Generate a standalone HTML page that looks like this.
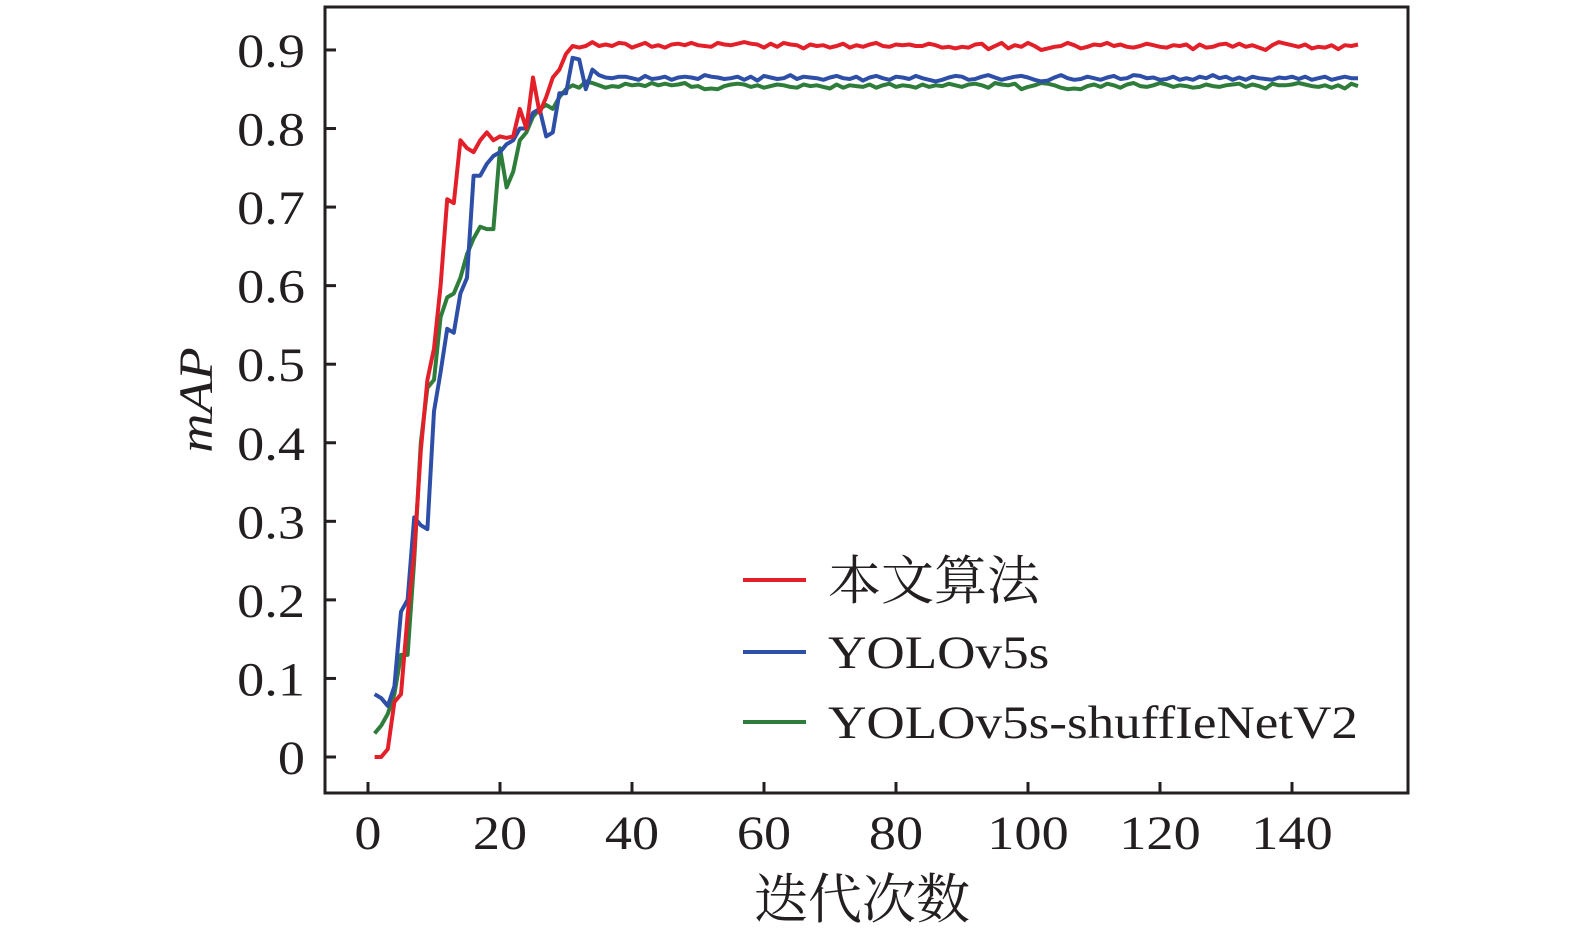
<!DOCTYPE html>
<html><head><meta charset="utf-8"><style>
body{margin:0;background:#fff;}
svg{display:block;}
text{font-family:"Liberation Serif","Noto Serif CJK SC",serif;fill:#231f20;}
</style></head><body>
<svg id="chart" width="1575" height="935">
<rect x="325" y="7" width="1083" height="786" fill="none" stroke="#231f20" stroke-width="3"/>
<g id="ticks"></g>
<g id="series"></g>
<text class="wide" x="212" y="400" font-size="48" font-style="italic" text-anchor="middle" transform="rotate(-90 212 400)">mAP</text>
<text x="862" y="918" font-size="54" text-anchor="middle">迭代次数</text>
<g>
<line x1="743" y1="580" x2="806" y2="580" stroke="#e3202a" stroke-width="4"/>
<text x="828" y="599" font-size="53">本文算法</text>
<line x1="743" y1="652" x2="806" y2="652" stroke="#2e4fa8" stroke-width="4"/>
<text class="wide" x="828" y="668" font-size="47">YOLOv5s</text>
<line x1="743" y1="722" x2="806" y2="722" stroke="#2e7d3a" stroke-width="4"/>
<text class="wide" x="828" y="738" font-size="47">YOLOv5s-shuffIeNetV2</text>
</g>
</svg>
<script>
const xTicks=[0,20,40,60,80,100,120,140];
const yTicks=[0,0.1,0.2,0.3,0.4,0.5,0.6,0.7,0.8,0.9];
const yTickLabels=["0","0.1","0.2","0.3","0.4","0.5","0.6","0.7","0.8","0.9"];
const oursEarly=[0,0,0.01,0.07,0.08,0.18,0.26,0.39,0.48,0.52,0.6,0.71,0.705,0.785,0.775,0.77,0.785,0.795,0.785,0.79,0.788,0.79,0.825,0.8,0.865,0.82,0.84,0.865,0.875,0.895,0.905,0.903,0.905,0.91,0.905];
const oursLate=[0.907,0.905,0.909,0.908,0.903,0.906,0.909,0.904,0.906,0.903,0.907,0.908,0.906,0.909,0.906,0.905,0.904,0.909,0.907,0.906,0.908,0.91,0.908,0.907,0.903,0.908,0.904,0.909,0.907,0.906,0.902,0.907,0.905,0.906,0.903,0.905,0.908,0.903,0.906,0.904,0.907,0.909,0.905,0.904,0.907,0.906,0.907,0.905,0.905,0.908,0.906,0.903,0.904,0.902,0.904,0.903,0.907,0.908,0.901,0.905,0.909,0.902,0.906,0.904,0.909,0.905,0.9,0.902,0.904,0.905,0.909,0.906,0.902,0.904,0.907,0.906,0.909,0.905,0.907,0.904,0.903,0.905,0.908,0.906,0.904,0.903,0.906,0.905,0.907,0.901,0.907,0.903,0.904,0.907,0.908,0.904,0.908,0.904,0.906,0.903,0.9,0.906,0.91,0.908,0.906,0.904,0.907,0.902,0.904,0.903,0.906,0.901,0.906,0.905,0.907];
const yoloEarly=[0.08,0.075,0.065,0.09,0.185,0.2,0.305,0.295,0.29,0.44,0.49,0.545,0.54,0.59,0.61,0.74,0.74,0.755,0.765,0.77,0.78,0.785,0.8,0.8,0.82,0.825,0.79,0.795,0.845,0.845,0.89,0.888,0.85,0.875,0.868];
const yoloLate=[0.865,0.864,0.866,0.866,0.864,0.862,0.867,0.863,0.864,0.866,0.862,0.865,0.866,0.865,0.863,0.868,0.866,0.865,0.863,0.864,0.866,0.862,0.866,0.861,0.867,0.865,0.863,0.864,0.868,0.863,0.866,0.865,0.864,0.862,0.865,0.867,0.864,0.863,0.866,0.861,0.865,0.867,0.864,0.862,0.866,0.865,0.863,0.867,0.864,0.862,0.86,0.862,0.865,0.867,0.866,0.862,0.863,0.866,0.868,0.865,0.862,0.864,0.866,0.867,0.865,0.862,0.86,0.861,0.865,0.868,0.864,0.862,0.863,0.866,0.864,0.862,0.865,0.867,0.863,0.864,0.868,0.867,0.864,0.865,0.862,0.863,0.866,0.862,0.864,0.862,0.866,0.864,0.868,0.864,0.866,0.862,0.865,0.862,0.866,0.864,0.863,0.862,0.865,0.864,0.866,0.863,0.866,0.862,0.864,0.866,0.862,0.864,0.866,0.864,0.864];
const shuffleEarly=[0.03,0.04,0.055,0.08,0.13,0.13,0.25,0.4,0.47,0.48,0.56,0.585,0.59,0.61,0.64,0.66,0.675,0.672,0.672,0.775,0.725,0.745,0.785,0.795,0.815,0.825,0.83,0.825,0.84,0.85,0.855,0.852,0.86,0.858,0.855];
const shuffleLate=[0.852,0.854,0.853,0.857,0.855,0.856,0.854,0.858,0.855,0.857,0.855,0.856,0.858,0.853,0.854,0.85,0.851,0.85,0.854,0.856,0.857,0.856,0.853,0.855,0.852,0.854,0.856,0.855,0.853,0.852,0.856,0.854,0.855,0.853,0.851,0.856,0.852,0.855,0.854,0.853,0.856,0.852,0.855,0.857,0.853,0.855,0.854,0.852,0.856,0.853,0.855,0.854,0.857,0.855,0.853,0.856,0.857,0.855,0.852,0.858,0.856,0.855,0.857,0.85,0.853,0.855,0.858,0.857,0.855,0.852,0.85,0.851,0.85,0.854,0.856,0.853,0.857,0.855,0.852,0.856,0.858,0.854,0.853,0.855,0.858,0.856,0.853,0.855,0.854,0.852,0.853,0.856,0.854,0.853,0.855,0.856,0.857,0.853,0.856,0.854,0.851,0.857,0.855,0.855,0.856,0.858,0.856,0.854,0.853,0.855,0.852,0.855,0.851,0.857,0.854];
const NS="http://www.w3.org/2000/svg";
function xs(v){return 368+v*6.6;}
function ys(v){return 757-v*785.6;}
const tg=document.getElementById('ticks');
xTicks.forEach(t=>{
  const l=document.createElementNS(NS,'line');
  l.setAttribute('x1',xs(t));l.setAttribute('x2',xs(t));l.setAttribute('y1',793);l.setAttribute('y2',782);
  l.setAttribute('stroke','#231f20');l.setAttribute('stroke-width','3');
  
  
  tg.appendChild(l);
  const tx=document.createElementNS(NS,'text');
  tx.setAttribute('x',xs(t));tx.setAttribute('y',849);tx.setAttribute('font-size','48');tx.setAttribute('text-anchor','middle');
  tx.setAttribute('class','wide');
  tx.textContent=t;
  
  
  tg.appendChild(tx);
});
yTicks.forEach((t,i)=>{
  const l=document.createElementNS(NS,'line');
  l.setAttribute('x1',325);l.setAttribute('x2',336);l.setAttribute('y1',ys(t));l.setAttribute('y2',ys(t));
  l.setAttribute('stroke','#231f20');l.setAttribute('stroke-width','3');
  
  
  tg.appendChild(l);
  const tx=document.createElementNS(NS,'text');
  tx.setAttribute('x',305);tx.setAttribute('y',ys(t)+17);tx.setAttribute('font-size','48');tx.setAttribute('text-anchor','end');
  tx.setAttribute('class','wide');
  tx.textContent=yTickLabels[i];
  
  
  tg.appendChild(tx);
});
document.querySelectorAll('text.wide').forEach(el=>{
  const w=el.getComputedTextLength();
  el.setAttribute('textLength',(w*1.13).toFixed(1));
  el.setAttribute('lengthAdjust','spacingAndGlyphs');
});
const sg=document.getElementById('series');
[[shuffleEarly.concat(shuffleLate),'#2e7d3a','series-yolov5s-shufflenetv2'],
 [yoloEarly.concat(yoloLate),'#2e4fa8','series-yolov5s'],
 [oursEarly.concat(oursLate),'#e3202a','series-ours']].forEach(s=>{
  const d=s[0].map((v,i)=>(i?'L':'M')+xs(i+1).toFixed(1)+','+ys(v).toFixed(1)).join('');
  const p=document.createElementNS(NS,'path');
  p.setAttribute('d',d);p.setAttribute('fill','none');p.setAttribute('stroke',s[1]);p.setAttribute('stroke-width','4');p.setAttribute('stroke-linejoin','round');
  
  
  sg.appendChild(p);
});
</script>
</body></html>
